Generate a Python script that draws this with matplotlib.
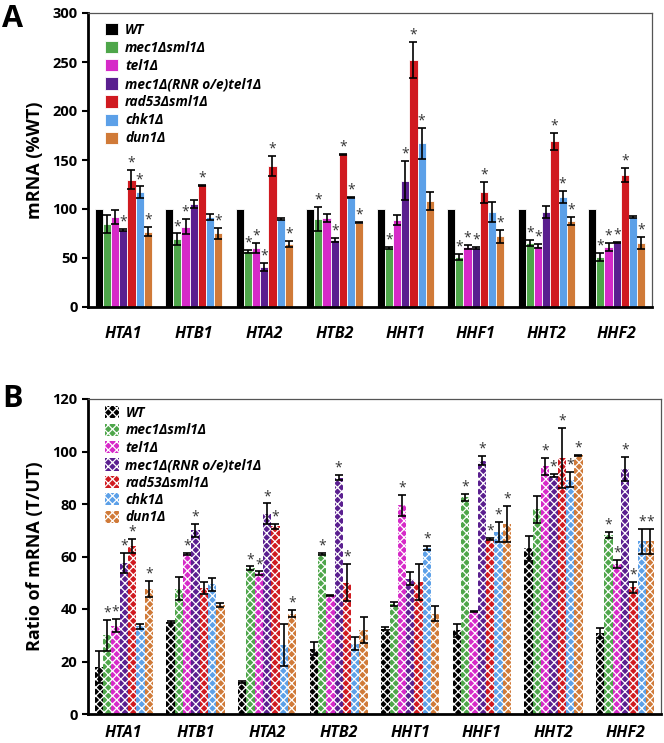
import numpy as np
import matplotlib
matplotlib.use("Agg")
import matplotlib.pyplot as plt

plt.rcParams["font.family"] = ["Open Sans", "DejaVu Sans"]
plt.rcParams["font.weight"] = "bold"
plt.rcParams["hatch.linewidth"] = 0.9

genes = ["HTA1", "HTB1", "HTA2", "HTB2", "HHT1", "HHF1", "HHT2", "HHF2"]
strains = ["WT", "mec1Δsml1Δ", "tel1Δ", "mec1Δ(RNR o/e)tel1Δ",
           "rad53Δsml1Δ", "chk1Δ", "dun1Δ"]
colors = ["#000000", "#4ea64a", "#d62ac8", "#5a1f8f",
          "#d01a20", "#5ca0e8", "#d07a38"]

# A: mRNA (%WT)
a_wt = [100, 100, 100, 100, 100, 100, 100, 100]
a_wt_err = [0, 0, 0, 0, 0, 0, 0, 0]
a_mec1sml1 = [85, 69, 57, 90, 60, 51, 65, 51]
a_mec1sml1_err = [9, 6, 1.5, 12, 0.8, 3, 3, 4]
a_tel1 = [92, 82, 60, 91, 89, 61, 62, 61]
a_tel1_err = [7, 8, 5, 4, 5, 2, 2, 4]
a_mec1rnr = [79, 105, 41, 68, 129, 60, 97, 66]
a_mec1rnr_err = [1, 4, 4, 2, 20, 1, 6, 0.5]
a_rad53 = [130, 124, 144, 156, 252, 117, 169, 135]
a_rad53_err = [10, 0.5, 10, 0.5, 18, 11, 9, 7]
a_chk1 = [117, 92, 90, 112, 167, 97, 112, 92]
a_chk1_err = [6, 3, 1, 0.5, 16, 10, 6, 1]
a_dun1 = [77, 75, 64, 86, 108, 72, 88, 65]
a_dun1_err = [5, 6, 3, 0.5, 9, 7, 4, 6]

a_star_wt = [0, 0, 0, 0, 0, 0, 0, 0]
a_star_mec1sml1 = [0, 1, 1, 1, 1, 1, 1, 1]
a_star_tel1 = [0, 1, 1, 0, 0, 1, 1, 1]
a_star_mec1rnr = [1, 0, 1, 1, 1, 1, 0, 1]
a_star_rad53 = [1, 1, 1, 1, 1, 1, 1, 1]
a_star_chk1 = [1, 0, 0, 1, 1, 0, 1, 0]
a_star_dun1 = [1, 1, 1, 1, 0, 1, 1, 1]

# B: Ratio of mRNA (T/UT)
b_wt = [18, 35, 12.2, 24.8, 32.5, 31.9, 63.2, 30.9]
b_wt_err = [6, 0.3, 0.3, 2.5, 0.5, 2.5, 4.8, 2]
b_mec1sml1 = [30, 47.8, 55.6, 61, 42, 82.5, 78, 68.3]
b_mec1sml1_err = [6, 4.5, 0.6, 0.4, 0.7, 1.4, 5.2, 1.2]
b_tel1 = [33.6, 61, 53.7, 45.2, 79.5, 39, 94.3, 57.1]
b_tel1_err = [2.5, 0.3, 0.6, 0.3, 4, 0.3, 3.2, 1.6]
b_mec1rnr = [57.5, 70, 76.2, 90, 51.5, 96.5, 90.8, 93.3]
b_mec1rnr_err = [3.8, 2.4, 4, 1, 2.5, 1.8, 0.6, 4.6]
b_rad53 = [64, 48, 71.5, 50, 50.3, 66.7, 97.5, 48.2]
b_rad53_err = [2.7, 2.3, 1, 7, 7, 0.5, 11.5, 2.2]
b_chk1 = [33.4, 49.5, 26.2, 26.7, 63.2, 69.3, 89.3, 65.8]
b_chk1_err = [1, 2.5, 8, 2.5, 0.8, 3.8, 2.8, 4.8]
b_dun1 = [47.7, 41.4, 38.2, 32, 38.2, 72.5, 98.5, 65.8]
b_dun1_err = [3, 0.8, 1.3, 5, 2.8, 6.9, 0.3, 4.8]

b_star_wt = [0, 0, 0, 0, 0, 0, 0, 0]
b_star_mec1sml1 = [1, 0, 1, 1, 0, 1, 0, 1]
b_star_tel1 = [1, 1, 1, 0, 1, 0, 1, 1]
b_star_mec1rnr = [1, 1, 1, 1, 0, 1, 1, 1]
b_star_rad53 = [1, 0, 1, 1, 0, 1, 1, 1]
b_star_chk1 = [0, 0, 0, 0, 1, 1, 1, 1]
b_star_dun1 = [1, 0, 1, 0, 0, 1, 1, 1]

a_vals = [a_wt, a_mec1sml1, a_tel1, a_mec1rnr, a_rad53, a_chk1, a_dun1]
a_errs = [a_wt_err, a_mec1sml1_err, a_tel1_err, a_mec1rnr_err,
          a_rad53_err, a_chk1_err, a_dun1_err]
a_stars = [a_star_wt, a_star_mec1sml1, a_star_tel1, a_star_mec1rnr,
           a_star_rad53, a_star_chk1, a_star_dun1]
b_vals = [b_wt, b_mec1sml1, b_tel1, b_mec1rnr, b_rad53, b_chk1, b_dun1]
b_errs = [b_wt_err, b_mec1sml1_err, b_tel1_err, b_mec1rnr_err,
          b_rad53_err, b_chk1_err, b_dun1_err]
b_stars = [b_star_wt, b_star_mec1sml1, b_star_tel1, b_star_mec1rnr,
           b_star_rad53, b_star_chk1, b_star_dun1]

W, H = 664, 743
fig = plt.figure(figsize=(W / 100, H / 100), dpi=100)
axA = fig.add_axes([88 / W, 1 - 307 / H, 564 / W, 294 / H])
axB = fig.add_axes([88 / W, 1 - 714 / H, 573 / W, 315 / H])

x = np.arange(len(genes))
w = 0.116


def draw(ax, vals, errs, stars, hatch, ymax, ystep, ylabel, xpad):
    handles = []
    for j in range(len(strains)):
        xs = x + (j - 3) * w
        if hatch:
            b = ax.bar(xs, vals[j], w, color=colors[j], edgecolor="white",
                       linewidth=0, hatch=hatch, label=strains[j])
        else:
            b = ax.bar(xs, vals[j], w, color=colors[j], edgecolor="white",
                       linewidth=0.6, label=strains[j])
        handles.append(b)
        e = np.array(errs[j])
        m = e > 0
        ax.errorbar(xs[m], np.array(vals[j])[m], yerr=e[m], fmt="none",
                    ecolor="black", elinewidth=1.2, capsize=3, capthick=1.2)
        for k in range(len(genes)):
            if stars[j][k]:
                # asterisk sits a few pixels above the error cap
                ax.annotate("*", (xs[k], vals[j][k] + errs[j][k]),
                            xytext=(0, 2.5), textcoords="offset points",
                            ha="center", va="baseline", fontsize=10,
                            color="#333333", fontweight="normal")
    ax.set_xlim(-0.5, len(genes) - 0.5)
    ax.set_ylim(0, ymax)
    ax.set_yticks(np.arange(0, ymax + 1, ystep))
    ax.set_xticks(x)
    ax.set_xticklabels(genes, fontsize=11.5, fontstyle="italic",
                       fontweight="bold")
    ax.tick_params(axis="x", length=0, pad=xpad)
    ax.tick_params(axis="y", labelsize=10.5, length=4, width=1.5,
                   direction="out")
    for lbl in ax.get_yticklabels():
        lbl.set_fontweight("bold")
    ax.set_ylabel(ylabel, fontsize=13, fontweight="bold", labelpad=6)
    for s in ["left", "bottom"]:
        ax.spines[s].set_linewidth(2)
        ax.spines[s].set_color("black")
    for s in ["top", "right"]:
        ax.spines[s].set_linewidth(0.9)
        ax.spines[s].set_color("#555555")
    return handles


hA = draw(axA, a_vals, a_errs, a_stars, None, 300, 50, "mRNA (%WT)", 14)
hB = draw(axB, b_vals, b_errs, b_stars, "xxxx", 120, 20,
          "Ratio of mRNA (T/UT)", 8)

axA.legend(handles=hA, loc="upper left", bbox_to_anchor=(0.02, 0.985),
           frameon=False, prop={"size": 9.8, "style": "italic",
                                "weight": "bold"},
           handlelength=1.0, handleheight=1.0, handletextpad=0.5,
           labelspacing=0.3, borderaxespad=0)
axB.legend(handles=hB, loc="upper left", bbox_to_anchor=(0.02, 0.995),
           frameon=False, prop={"size": 9.8, "style": "italic",
                                "weight": "bold"},
           handlelength=1.0, handleheight=1.0, handletextpad=0.5,
           labelspacing=0.25, borderaxespad=0)

fig.text(2 / W, 1 - 4 / H, "A", fontsize=22, fontweight="bold",
         va="top", ha="left")
fig.text(2 / W, 1 - 384 / H, "B", fontsize=22, fontweight="bold",
         va="top", ha="left")

plt.savefig("out.png", dpi=100)
plt.close()
